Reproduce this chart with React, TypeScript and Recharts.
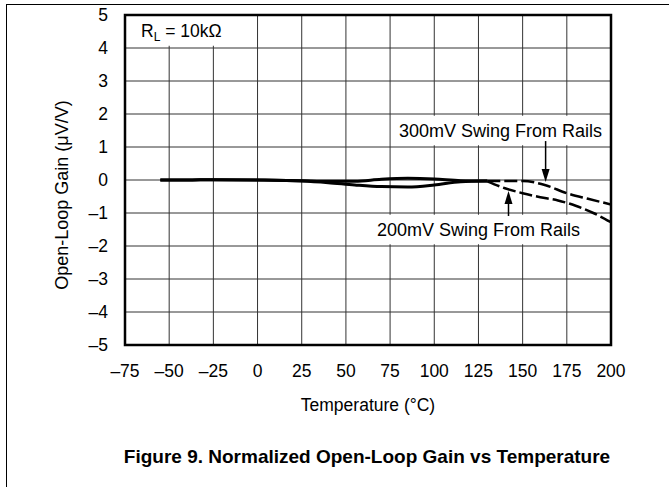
import React from 'react';
import {
  LineChart, Line, XAxis, YAxis, CartesianGrid, ReferenceArea, ReferenceLine, ReferenceDot,
} from 'recharts';

// ---- data ----
const xTicks = [-75, -50, -25, 0, 25, 50, 75, 100, 125, 150, 175, 200];
const yTicks = [-5, -4, -3, -2, -1, 0, 1, 2, 3, 4, 5];

const tempsSolid = [-55, -40, -25, 0, 25, 40, 55, 70, 85, 100, 115, 130];
const gainSolidUpper = [0, 0, 0.01, 0, -0.02, -0.04, -0.04, 0.02, 0.05, 0.03, -0.02, -0.03];
const gainSolidLower = [0, 0, 0.01, 0, -0.03, -0.08, -0.15, -0.2, -0.21, -0.15, -0.05, -0.03];

const temps300 = [130, 140, 150, 163, 175, 187, 200];
const gain300 = [-0.03, -0.03, -0.03, -0.16, -0.4, -0.57, -0.74];

const temps200 = [130, 140, 150, 160, 170, 180, 190, 200];
const gain200 = [-0.04, -0.25, -0.4, -0.52, -0.62, -0.78, -1.0, -1.28];

const label300 = '300mV Swing From Rails';
const label200 = '200mV Swing From Rails';
const xTitle = 'Temperature (°C)';
const yTitle = 'Open-Loop Gain  (\u03BCV/V)';
const figTitle = 'Figure 9. Normalized Open-Loop Gain vs Temperature';

const zip = (xs: number[], ys: number[]) => xs.map((x, i) => ({ x, y: ys[i] }));
const solidUpper = zip(tempsSolid, gainSolidUpper);
const solidLower = zip(tempsSolid, gainSolidLower);
const dash300 = zip(temps300, gain300);
const dash200 = zip(temps200, gain200);

const FONT = '"Liberation Sans", Arial, Helvetica, sans-serif';
const fmt = (v: number) => (v < 0 ? '\u2013' + Math.abs(v) : String(v));

const DownHead = (p: any) => (
  <polygon points={`${p.cx},${p.cy} ${p.cx - 4},${p.cy - 13} ${p.cx + 4},${p.cy - 13}`} fill="#000" />
);
const UpHead = (p: any) => (
  <polygon points={`${p.cx},${p.cy} ${p.cx - 4},${p.cy + 13} ${p.cx + 4},${p.cy + 13}`} fill="#000" />
);

export default function App() {
  return (
    <div style={{ position: 'relative', width: 669, height: 487, background: '#fff', fontFamily: FONT }}>
      <style>{`body{margin:0;background:#fff}`}</style>
      <div style={{ position: 'absolute', left: 6, top: 4, width: 663, height: 483, borderTop: '1px solid #000', borderLeft: '1px solid #000' }} />
      <LineChart
        width={669}
        height={487}
        margin={{ top: 15, right: 58, bottom: 82, left: 65 }}
        style={{ position: 'absolute', left: 0, top: 0 }}
      >
        <CartesianGrid stroke="#333" strokeWidth={1} />
        <XAxis
          type="number"
          dataKey="x"
          domain={[-75, 200]}
          ticks={xTicks}
          tickFormatter={fmt}
          axisLine={false}
          tickLine={false}
          tickSize={0}
          tickMargin={20}
          height={60}
          tick={{ fill: '#000', fontSize: 17.5, fontFamily: FONT }}
          allowDataOverflow
          label={{
            content: (props: any) => {
              const vb = props.viewBox;
              return (
                <text x={vb.x + vb.width / 2} y={vb.y + 66} textAnchor="middle" fill="#000" fontSize={17.5} fontFamily={FONT}>
                  {xTitle}
                </text>
              );
            },
          }}
        />
        <YAxis
          type="number"
          domain={[-5, 5]}
          ticks={yTicks}
          tickFormatter={fmt}
          axisLine={false}
          tickLine={false}
          tickSize={0}
          tickMargin={17}
          width={60}
          tick={{ fill: '#000', fontSize: 17.5, fontFamily: FONT }}
          allowDataOverflow
          label={{
            content: (props: any) => {
              const vb = props.viewBox;
              const cx = vb.x + 3;
              const cy = vb.y + vb.height / 2 + 15;
              return (
                <text x={cx} y={cy} transform={`rotate(-90, ${cx}, ${cy})`} textAnchor="middle" fill="#000" fontSize={18} fontFamily={FONT}>
                  {yTitle}
                </text>
              );
            },
          }}
        />
        <ReferenceArea
          x1={-75} x2={-17} y1={4.07} y2={4.97}
          fill="#fff" fillOpacity={1} stroke="none"
          label={{
            content: (props: any) => {
              const vb = props.viewBox;
              return (
                <text x={vb.x + 16} y={vb.y + 21} fill="#000" fontSize={17.5} fontFamily={FONT}>
                  R<tspan fontSize={12} dy={4}>L</tspan><tspan dy={-4}> = 10k{'\u03A9'}</tspan>
                </text>
              );
            },
          }}
        />
        <ReferenceArea
          x1={78} x2={197} y1={1.05} y2={1.95}
          fill="#fff" fillOpacity={1} stroke="none"
          label={{ value: label300, position: 'center', fill: '#000', fontSize: 18, fontFamily: FONT }}
        />
        <ReferenceArea
          x1={66} x2={184} y1={-1.95} y2={-1.05}
          fill="#fff" fillOpacity={1} stroke="none"
          label={{ value: label200, position: 'center', fill: '#000', fontSize: 18, fontFamily: FONT }}
        />
        <ReferenceArea
          x1={-75} x2={200} y1={-5} y2={5}
          fill="none" fillOpacity={0} stroke="#000" strokeWidth={2.5}
        />
        <ReferenceLine segment={[{ x: 163, y: 1.18 }, { x: 163, y: 0.2 }]} stroke="#000" strokeWidth={1.5} />
        <ReferenceDot x={163} y={-0.06} r={4} shape={DownHead} />
        <ReferenceLine segment={[{ x: 142, y: -1.09 }, { x: 142, y: -0.6 }]} stroke="#000" strokeWidth={1.5} />
        <ReferenceDot x={142} y={-0.33} r={4} shape={UpHead} />
        <Line data={solidUpper} dataKey="y" type="monotone" stroke="#000" strokeWidth={3} dot={false} activeDot={false} isAnimationActive={false} />
        <Line data={solidLower} dataKey="y" type="monotone" stroke="#000" strokeWidth={3} dot={false} activeDot={false} isAnimationActive={false} />
        <Line data={dash300} dataKey="y" type="monotone" stroke="#000" strokeWidth={2.5} strokeDasharray="13 4" dot={false} activeDot={false} isAnimationActive={false} />
        <Line data={dash200} dataKey="y" type="monotone" stroke="#000" strokeWidth={2.5} strokeDasharray="13 4" dot={false} activeDot={false} isAnimationActive={false} />
      </LineChart>
      <div
        style={{
          position: 'absolute', left: 367, top: 446, transform: 'translateX(-50%)', whiteSpace: 'nowrap',
          fontWeight: 'bold', fontSize: 19, fontFamily: FONT, color: '#000', lineHeight: '22px',
        }}
      >
        {figTitle}
      </div>
    </div>
  );
}
